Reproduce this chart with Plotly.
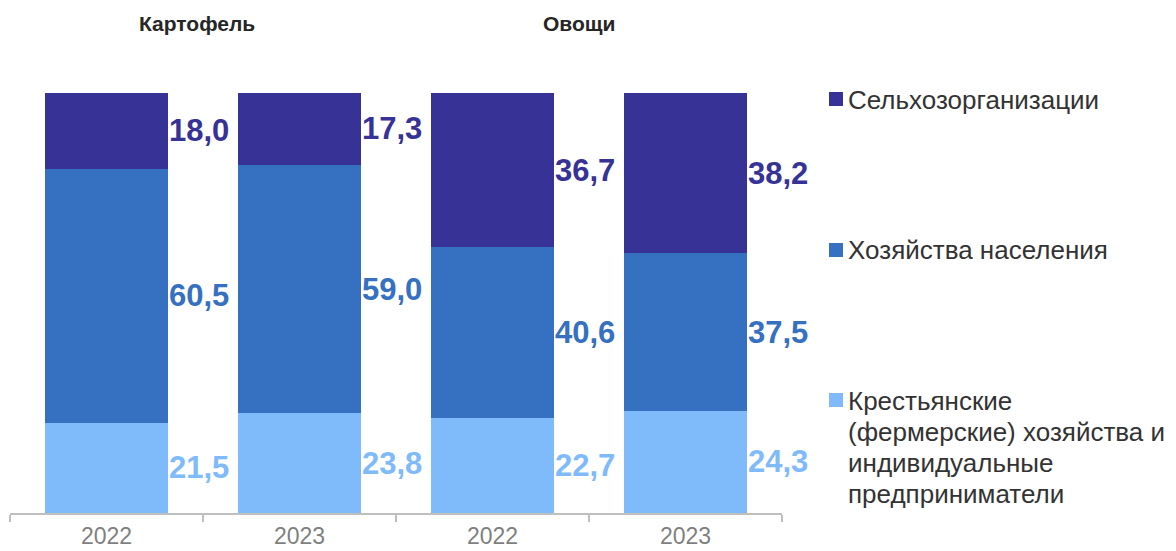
import plotly.graph_objects as go

# ---- data ----
years = ["2022", "2023", "2022", "2023"]
crops = ["Картофель", "Овощи"]
series_names = [
    "Крестьянские (фермерские) хозяйства и индивидуальные предприниматели",
    "Хозяйства населения",
    "Сельхозорганизации",
]
legend_lines = [
    ["Крестьянские", "(фермерские) хозяйства и", "индивидуальные", "предприниматели"],
    ["Хозяйства населения"],
    ["Сельхозорганизации"],
]
farmers = [21.5, 23.8, 22.7, 24.3]
households = [60.5, 59.0, 40.6, 37.5]
agri_orgs = [18.0, 17.3, 36.7, 38.2]

colors = ["#7FBAFA", "#3570C1", "#373295"]
series_values = [farmers, households, agri_orgs]

# ---- layout geometry (page pixels; the page body has an 8px margin) ----
OFF = 8
W, H = 1176, 551
PLOT_L, PLOT_R, PLOT_T, PLOT_B = 10, 782, 93, 513  # page coords
L = PLOT_L - OFF
R = W - (PLOT_R - OFF)
T = PLOT_T - OFF
B = H - (PLOT_B - OFF)
PW = PLOT_R - PLOT_L
PH = PLOT_B - PLOT_T


def px_x(p):
    return (p - PLOT_L) / PW


def px_y(p):
    return (PLOT_B - p) / PH


FONT = "Arial, Liberation Sans, sans-serif"
xs = list(range(len(years)))
BAR_W = 0.637

fig = go.Figure()
for name, vals, col in zip(series_names, series_values, colors):
    fig.add_trace(go.Bar(
        x=xs, y=vals, name=name, width=BAR_W,
        marker=dict(color=col, line=dict(width=0)),
        showlegend=False,
        hoverinfo="y+name",
    ))

annotations = []
# value labels to the right of each segment
for k, (vals, col) in enumerate(zip(series_values, colors)):
    for i, v in enumerate(vals):
        base = sum(series_values[j][i] for j in range(k))
        annotations.append(dict(
            x=i + BAR_W / 2, y=base + v / 2, xref="x", yref="y",
            text=f"{v:.1f}".replace(".", ","),
            showarrow=False, xanchor="left", yanchor="middle", xshift=-1,
            font=dict(family=FONT, size=31, color=col, weight="bold"),
        ))

# group titles
for cx, t in zip([0.47, 2.45], crops):
    annotations.append(dict(
        x=cx, y=px_y(24), xref="x", yref="paper", text=f"<b>{t}</b>",
        showarrow=False, xanchor="center", yanchor="middle",
        font=dict(family=FONT, size=21, color="#262626"),
    ))

# legend (top to bottom: dark, mid, light)
shapes = []
first_line_y = [100, 250, 401]
sq_centers = [99, 250, 400]
LINE_H = 31
for idx, k in enumerate([2, 1, 0]):
    shapes.append(dict(
        type="rect", xref="paper", yref="paper",
        x0=px_x(829), x1=px_x(843),
        y0=px_y(sq_centers[idx] + 7), y1=px_y(sq_centers[idx] - 7),
        fillcolor=colors[k], line=dict(width=0),
    ))
    for n, line in enumerate(legend_lines[k]):
        annotations.append(dict(
            x=px_x(846), y=px_y(first_line_y[idx] + n * LINE_H),
            xref="paper", yref="paper",
            text=line, showarrow=False, xanchor="left", yanchor="middle",
            align="left",
            font=dict(family=FONT, size=26, color="#333333"),
        ))

fig.update_layout(
    width=W, height=H, autosize=False,
    barmode="stack", bargap=0,
    margin=dict(l=L, r=R, t=T, b=B, pad=0, autoexpand=False),
    paper_bgcolor="white", plot_bgcolor="white",
    showlegend=False,
    annotations=annotations, shapes=shapes,
    xaxis=dict(
        range=[-0.5, 3.5], tickmode="array", tickvals=xs, ticktext=years,
        ticks="outside", ticklen=1, tickcolor="rgba(0,0,0,0)",
        tickfont=dict(family=FONT, size=23, color="#7F7F7F"),
        showline=True, linecolor="#BFBFBF", linewidth=2,
        showgrid=False, zeroline=False, fixedrange=True, automargin=False,
        minor=dict(tickmode="array", tickvals=[-0.5, 0.5, 1.5, 2.5, 3.5],
                   ticks="outside", ticklen=7, tickwidth=2,
                   tickcolor="#BFBFBF", showgrid=False),
    ),
    yaxis=dict(range=[0, 100], visible=False, fixedrange=True, automargin=False),
)

fig.write_html("out.html")
